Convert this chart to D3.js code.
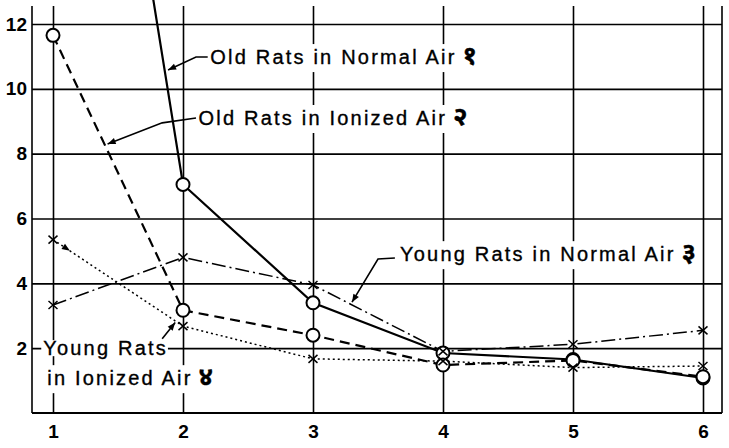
<html>
<head>
  <title>Rats in normal and ionized air</title>
  <script src="https://d3js.org/d3.v7.min.js"></script>
  <style>
    body { margin: 0; background: white; }
    .grid line { stroke: black; stroke-width: 1.6px; }
    .tick text { font-family: "Liberation Sans", Arial, sans-serif; font-size: 19px; font-weight: bold; fill: black; }
    .note { font-family: "Liberation Sans", Arial, sans-serif; font-size: 20px; letter-spacing: 2.2px; fill: black; stroke: black; stroke-width: 0.35px; }
    .deva { font-family: "Noto Sans Devanagari", "Noto Sans", "DejaVu Sans", sans-serif; font-weight: bold; font-size: 26px; letter-spacing: 0; }
    .leader { fill: none; stroke: black; stroke-width: 1.6px; }
  </style>
</head>
<body>
  <svg id="screen"></svg>

  <script>
    // data
    let days = [1, 2, 3, 4, 5, 6]
    let oldNormal  = [32, 7.05, 3.4, 1.85, 1.65, 1.08]   // first point is off the top
    let oldIonized = [11.65, 3.17, 2.4, 1.48, 1.62, 1.12]
    let youngNormal  = [3.33, 4.8, 3.95, 1.9, 2.12, 2.55]
    let youngIonized = [5.35, 2.68, 1.67, 1.6, 1.4, 1.45]
    let yTicks = [2, 4, 6, 8, 10, 12]
    let xTicks = [1, 2, 3, 4, 5, 6]

    let svg = {width: 729, height: 448}
    let plot = {left: 32, right: 722, top: 6, bottom: 413}

    let frame = d3.select('#screen')
      .attr('width', svg.width)
      .attr('height', svg.height)

    let x = d3.scaleLinear().domain([1, 6]).range([53, 703])
    let y = d3.scaleLinear().domain([0, 12]).range([plot.bottom, 24])

    // horizontal grid + y labels
    frame.append('g')
      .attr('class', 'grid')
      .attr('transform', `translate(${plot.left},0)`)
      .call(d3.axisLeft(y).tickValues(yTicks).tickSize(-(plot.right - plot.left)).tickPadding(5))
      .call(g => g.select('.domain').remove())

    // vertical grid + x labels
    frame.append('g')
      .attr('class', 'grid')
      .attr('transform', `translate(0,${plot.bottom})`)
      .call(d3.axisBottom(x).tickValues(xTicks).tickFormat(d3.format('d')).tickSize(-(plot.bottom - plot.top)).tickPadding(12))
      .call(g => g.select('.domain').remove())

    // frame lines: left, bottom, right
    let border = frame.append('g').attr('class', 'grid')
    border.append('line').attr('x1', plot.left).attr('x2', plot.left).attr('y1', plot.top).attr('y2', plot.bottom)
    border.append('line').attr('x1', plot.left).attr('x2', plot.right).attr('y1', plot.bottom).attr('y2', plot.bottom).style('stroke-width', '2px')
    border.append('line').attr('x1', plot.right).attr('x2', plot.right).attr('y1', plot.top).attr('y2', plot.bottom)

    frame.append('clipPath').attr('id', 'clip')
      .append('rect')
      .attr('x', plot.left).attr('y', 0)
      .attr('width', plot.right - plot.left).attr('height', plot.bottom)

    let line = d3.line().x((d, i) => x(days[i])).y(d => y(d))

    let series = [
      {vals: oldNormal,    dash: null,       width: 2.2, mark: 'circle'},
      {vals: oldIonized,   dash: '10,6',     width: 2.2, mark: 'circle'},
      {vals: youngNormal,  dash: '14,4,2,4', width: 1.5, mark: 'cross'},
      {vals: youngIonized, dash: '2,3',      width: 1.5, mark: 'cross'}
    ]

    // labels go under the lines but over the grid, each on a white patch
    let labelLayer = frame.append('g')
    let lines = frame.append('g').attr('clip-path', 'url(#clip)')
    series.forEach(s => {
      lines.append('path')
        .attr('d', line(s.vals))
        .attr('fill', 'none')
        .attr('stroke', 'black')
        .attr('stroke-width', s.width)
        .attr('stroke-dasharray', s.dash)
    })

    // markers
    series.forEach(s => {
      let pts = s.vals.map((v, i) => [x(days[i]), y(v)]).filter(p => p[1] > plot.top)
      if (s.mark == 'circle') {
        frame.append('g').selectAll('circle')
          .data(pts).enter().append('circle')
          .attr('cx', d => d[0]).attr('cy', d => d[1]).attr('r', 6.5)
          .attr('fill', 'white').attr('stroke', 'black').attr('stroke-width', 2)
      } else {
        frame.append('g').selectAll('path')
          .data(pts).enter().append('path')
          .attr('d', d => `M${d[0]-4.5},${d[1]-4}L${d[0]+4.5},${d[1]+4}M${d[0]-4.5},${d[1]+4}L${d[0]+4.5},${d[1]-4}`)
          .attr('stroke', 'black').attr('stroke-width', 1.5)
      }
    })

    // labels with leaders, placed in data units
    let notes = [
      {lines: ['Old Rats in Normal Air'], num: '१', at: [2.21, 10.98],
       leader: [[2.19, 10.98], [2.1, 10.98], [1.885, 10.58]]},
      {lines: ['Old Rats in Ionized Air'], num: '२', at: [2.12, 9.1],
       leader: [[2.1, 9.1], [1.84, 8.95], [1.42, 8.3]]},
      {lines: ['Young Rats in Normal Air'], num: '३', at: [3.67, 4.9],
       leader: [[3.63, 4.78], [3.5, 4.75], [3.3, 3.42]]},
      {lines: ['Young Rats', 'in Ionized Air'], num: '४', at: [0.925, 2.0],
       leader: [[1.84, 2.29], [1.94, 2.79]]}
    ]

    let arrowHead = (p, q) => {
      // small filled head at q pointing from p
      let a = Math.atan2(q[1] - p[1], q[0] - p[0])
      let l = 8, w = 3.2
      let bx = q[0] - l * Math.cos(a), by = q[1] - l * Math.sin(a)
      return `M${q[0]},${q[1]}L${bx + w * Math.sin(a)},${by - w * Math.cos(a)}L${bx - w * Math.sin(a)},${by + w * Math.cos(a)}Z`
    }

    notes.forEach(n => {
      n.lines.forEach((s, i) => {
        let g = labelLayer.append('g')
        let t = g.append('text')
          .attr('class', 'note')
          .attr('x', x(n.at[0]) + (i ? 4 : 0))
          .attr('y', y(n.at[1]) + i * 30)
          .attr('dy', '0.35em')
          .text(s)
        if (i == n.lines.length - 1) {
          t.append('tspan').attr('class', 'deva').attr('dx', 6).text(n.num)
        }
        let b = t.node().getBBox()
        g.insert('rect', 'text')
          .attr('x', b.x - 2).attr('y', b.y + 3)
          .attr('width', b.width + 2).attr('height', b.height - 6)
          .attr('fill', 'white')
      })
      let pts = n.leader.map(p => [x(p[0]), y(p[1])])
      frame.append('path').attr('class', 'leader').attr('d', d3.line()(pts))
      frame.append('path').attr('d', arrowHead(pts[pts.length - 2], pts[pts.length - 1])).attr('fill', 'black')
    })

    // the small arrow on the young ionized line near day 1
    let p0 = [x(days[0]), y(youngIonized[0])], p1 = [x(days[1]), y(youngIonized[1])]
    let tip = [p0[0] + 0.13 * (p1[0] - p0[0]), p0[1] + 0.13 * (p1[1] - p0[1])]
    frame.append('path').attr('d', arrowHead(p0, tip)).attr('fill', 'black')
  </script>
</body>
</html>
